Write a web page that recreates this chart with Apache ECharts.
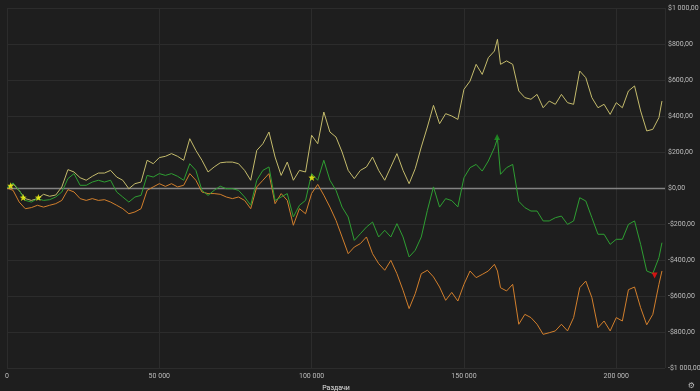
<!DOCTYPE html>
<html>
<head>
<meta charset="utf-8">
<script src="https://cdn.jsdelivr.net/npm/echarts@6/dist/echarts.min.js"></script>
<style>
html,body{margin:0;padding:0;background:#1e1e1e;}
#c{width:700px;height:391px;}
</style>
</head>
<body>
<div id="c"></div>
<script>
const hands = [0,2000,4000,6000,8000,10000,12000,14000,16000,18000,20000,22000,24000,26000,28000,30000,32000,34000,36000,38000,40000,42000,44000,46000,48000,50000,52000,54000,56000,58000,60000,62000,64000,66000,68000,70000,72000,74000,76000,78000,80000,82000,84000,86000,88000,90000,92000,94000,96000,98000,100000,102000,104000,106000,108000,110000,112000,114000,116000,118000,120000,122000,124000,126000,128000,130000,132000,134000,136000,138000,140000,142000,144000,146000,148000,150000,152000,154000,156000,158000,160000,161000,162000,164000,166000,168000,170000,172000,174000,176000,178000,180000,182000,184000,186000,188000,190000,192000,194000,196000,198000,200000,202000,204000,206000,208000,210000,212000,214000,215000];

const yellowLine = [0,24,-15,-59,-69,-59,-35,-46,-39,6,102,89,57,43,65,83,83,98,61,43,-4,24,33,154,135,169,176,191,176,154,274,209,154,89,117,140,144,144,135,98,43,209,246,311,172,70,144,43,98,89,293,246,422,311,283,200,98,52,98,117,172,98,43,117,191,98,24,107,228,339,459,357,413,400,381,548,594,687,631,724,761,826,687,706,687,539,502,493,520,446,483,465,520,474,465,650,613,502,446,465,409,474,446,539,567,428,317,326,391,483];

const greenLine = [0,28,-13,-69,-78,-59,-69,-65,-50,-22,52,80,15,15,33,43,33,43,-22,-50,-78,-50,-41,70,61,80,70,80,65,43,135,98,-13,-41,-13,10,-4,-4,-13,-50,-96,43,98,117,-69,-50,-31,-161,-96,-69,80,43,154,43,-13,-106,-161,-291,-254,-217,-189,-272,-235,-272,-198,-272,-383,-346,-272,-124,6,-106,-59,-70,-105,57,113,131,94,150,224,275,76,113,131,-74,-109,-128,-128,-183,-183,-165,-156,-202,-183,-54,-72,-165,-257,-257,-313,-285,-285,-202,-183,-313,-461,-475,-387,-304];

const orangeLine = [0,-13,-78,-115,-109,-96,-106,-96,-87,-69,-9,-22,-59,-69,-59,-69,-65,-78,-96,-115,-143,-133,-115,-13,6,24,9,24,6,15,80,43,-22,-31,-31,-35,-50,-59,-50,-69,-115,6,43,80,-87,-31,-69,-207,-115,-143,-30,20,-40,-106,-180,-272,-365,-328,-309,-272,-365,-420,-457,-402,-476,-568,-670,-587,-476,-457,-494,-550,-624,-580,-628,-535,-461,-498,-480,-461,-424,-461,-554,-572,-535,-757,-702,-720,-757,-813,-804,-794,-757,-794,-720,-554,-517,-609,-776,-739,-794,-720,-739,-565,-550,-665,-760,-702,-535,-461];

const starHands = [1200,5300,10300,100100];
const starValues = [13,-53,-53,58];
const peakHands = [160900];
const peakValues = [284];
const lowHands = [212600];
const lowValues = [-486];

const xTicks = ['0','50 000','100 000','150 000','200 000'];

function pairs(xs, ys){ return xs.map((x,i)=>[x, ys[i]]); }
function money(v){
  const a = Math.abs(Math.round(v));
  const s = String(a).replace(/\B(?=(\d{3})+(?!\d))/g, ' ');
  return (v < 0 ? '-' : '') + '$' + s + ',00';
}

const chart = echarts.init(document.getElementById('c'), null, {renderer:'canvas'});
const gridColor = '#2c2c2c';
const labelColor = '#bdbdbd';
const font = 'Roboto, "DejaVu Sans", sans-serif';
const starPath = 'path://M12,1 L14.8,8.6 L23,8.9 L16.6,14 L18.8,22 L12,17.4 L5.2,22 L7.4,14 L1,8.9 L9.2,8.6 Z';

chart.setOption({
  backgroundColor: '#1e1e1e',
  animation: false,
  grid: {left: 7, right: 35, top: 8, bottom: 23, containLabel: false, outerBoundsMode: 'none'},
  xAxis: {
    type: 'value', min: 0, max: 216000, interval: 50000,
    name: 'Раздачи', nameLocation: 'middle', nameGap: 12,
    nameTextStyle: {color: '#e0e0e0', fontSize: 7, fontFamily: font},
    axisLine: {show: false}, axisTick: {show: false},
    axisLabel: {color: labelColor, fontSize: 7, fontFamily: font, margin: 5, showMaxLabel: false,
      formatter: v => (v % 50000 === 0 ? xTicks[v / 50000] : '')},
    splitLine: {show: true, lineStyle: {color: gridColor, width: 1}}
  },
  yAxis: {
    type: 'value', position: 'right', min: -1000, max: 1000, interval: 200,
    name: 'Выигрыш', nameLocation: 'middle', nameGap: 29, nameRotate: -90,
    nameTextStyle: {color: '#e0e0e0', fontSize: 7, fontFamily: font},
    axisLine: {show: false}, axisTick: {show: false},
    axisLabel: {color: labelColor, fontSize: 7, fontFamily: font, margin: 3, formatter: v => money(v)},
    splitLine: {show: true, lineStyle: {color: gridColor, width: 1}}
  },
  series: [
    {type: 'line', name: 'orange', data: pairs(hands, orangeLine), showSymbol: false, symbol: 'none',
      lineStyle: {color: '#d27f2c', width: 1}, z: 3,
      markLine: {silent: true, symbol: 'none', label: {show: false},
        lineStyle: {color: '#9a9a9a', width: 1.3, type: 'solid', opacity: 0.8},
        data: [{yAxis: 0}], z: 1}},
    {type: 'line', name: 'yellow', data: pairs(hands, yellowLine), showSymbol: false, symbol: 'none',
      lineStyle: {color: '#c4bb6c', width: 1}, z: 4},
    {type: 'line', name: 'green', data: pairs(hands, greenLine), showSymbol: false, symbol: 'none',
      lineStyle: {color: '#2e9e32', width: 1}, z: 5},
    {type: 'scatter', data: pairs(starHands, starValues), symbol: starPath, symbolSize: 7,
      itemStyle: {color: '#ffff10'}, z: 10},
    {type: 'scatter', data: pairs(peakHands, peakValues), symbol: 'triangle', symbolSize: 6,
      itemStyle: {color: '#1f9a23'}, z: 10},
    {type: 'scatter', data: pairs(lowHands, lowValues), symbol: 'triangle', symbolRotate: 180, symbolSize: 6,
      itemStyle: {color: '#ff1010'}, z: 10}
  ],
  graphic: [{type: 'text', right: 5, bottom: 1, style: {text: '⚙', fill: '#bbbbbb', fontSize: 8, fontFamily: '"DejaVu Sans"'}}]
});
</script>
</body>
</html>
